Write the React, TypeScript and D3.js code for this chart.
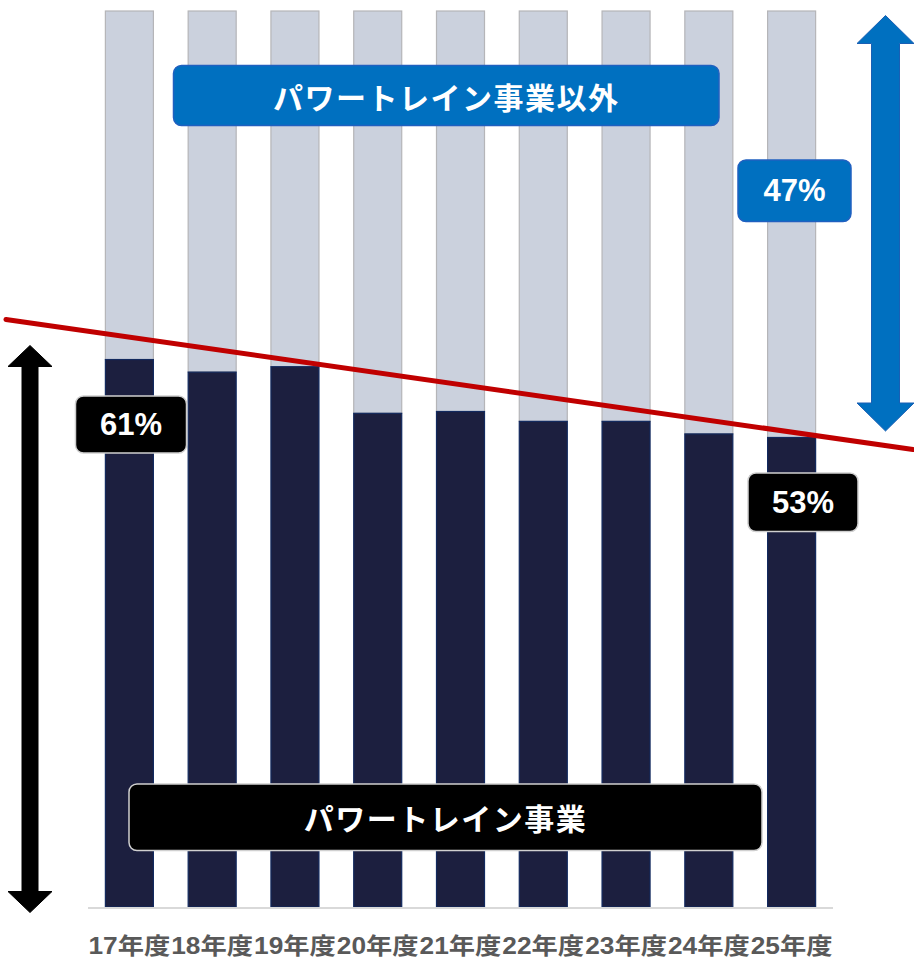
import React from "react";
import * as d3 from "d3";

const categories = ["17年度", "18年度", "19年度", "20年度", "21年度", "22年度", "23年度", "24年度", "25年度"];
const powertrainShare = [0.611, 0.597, 0.603, 0.551, 0.553, 0.542, 0.542, 0.528, 0.524];
const trendEnds = [0.636, 0.530];
const labelTexts = { nonPT: "パワートレイン事業以外", pt: "パワートレイン事業", startPct: "61%", endPct: "53%", otherPct: "47%" };

const W = 914, H = 958;
const JP = "'Noto Sans CJK JP', sans-serif";
const LAT = "'Liberation Sans', Arial, 'Noto Sans CJK JP', sans-serif";

export default function App() {
  const x = d3.scaleBand<string>().domain(categories).range([88, 833]).paddingInner(0.42).paddingOuter(0.21);
  const y = d3.scaleLinear().domain([0, 1]).range([907, 11]);
  const bw = x.bandwidth();
  const step = x.step();
  const centers = categories.map((c) => (x(c) as number) + bw / 2);
  const xi = d3.scaleLinear().domain([0, categories.length - 1]).range([centers[0], centers[centers.length - 1]]);
  const tv = d3.scaleLinear().domain([0, categories.length - 1]).range(trendEnds);
  const i0 = xi.invert(6), i1 = xi.invert(913);

  const box = (x0: number, y0: number, x1: number, y1: number, fill: string, stroke: string, text: string, fs: number, font: string, ls: number) => (
    <g>
      <rect x={x0} y={y0} width={x1 - x0} height={y1 - y0} rx={8} fill={fill} stroke={stroke} strokeWidth={1.5} />
      <text x={(x0 + x1) / 2} y={(y0 + y1) / 2} textAnchor="middle" dominantBaseline="central" fill="#fff" fontSize={fs} fontWeight={700} fontFamily={font} letterSpacing={ls}>{text}</text>
    </g>
  );

  const vArrow = (cx: number, top: number, bottom: number, headW: number, headH: number, shaftW: number, fill: string, stroke: string) => {
    const p = [
      [cx, top], [cx + headW / 2, top + headH], [cx + shaftW / 2, top + headH], [cx + shaftW / 2, bottom - headH],
      [cx + headW / 2, bottom - headH], [cx, bottom], [cx - headW / 2, bottom - headH], [cx - shaftW / 2, bottom - headH],
      [cx - shaftW / 2, top + headH], [cx - headW / 2, top + headH],
    ];
    return <path d={d3.line()(p as [number, number][]) + "Z"} fill={fill} stroke={stroke} strokeWidth={1} />;
  };

  return (
    <svg width={W} height={H} style={{ position: "absolute", left: 0, top: 0, background: "#fff" }}>
      {categories.map((c, i) => (
        <g key={c}>
          <rect x={x(c)} y={y(1)} width={bw} height={y(powertrainShare[i]) - y(1)} fill="#cbd1dd" stroke="#b5b5b8" strokeWidth={1.2} />
          <rect x={x(c)} y={y(powertrainShare[i])} width={bw} height={y(0) - y(powertrainShare[i])} fill="#1c1f3f" stroke="#12295e" strokeWidth={1.2} />
        </g>
      ))}
      <line x1={88} x2={833} y1={y(0) + 1} y2={y(0) + 1} stroke="#d9d9d9" strokeWidth={2} />
      {categories.map((c, i) => (
        <text key={c} x={centers[i]} y={946} textAnchor="middle" dominantBaseline="central" fill="#595959" fontSize={23} fontWeight={700} fontFamily={LAT} textLength={step - 1} lengthAdjust="spacingAndGlyphs">{c}</text>
      ))}
      <line x1={xi(i0)} y1={y(tv(i0))} x2={xi(i1)} y2={y(tv(i1))} stroke="#c00000" strokeWidth={5} strokeLinecap="round" />
      {vArrow(30, 345.5, 912.5, 44, 21, 16, "#000", "#000")}
      {vArrow(885.5, 15.5, 431, 57, 28, 28, "#0070c0", "#1a5fb4")}
      {box(173.5, 65.5, 719, 125.5, "#0070c0", "#2060c0", labelTexts.nonPT, 30, JP, 1.5)}
      {box(129, 784, 762, 850.5, "#000", "#d0d0d0", labelTexts.pt, 30, JP, 1.5)}
      {box(738, 160, 851, 221.5, "#0070c0", "#2060c0", labelTexts.otherPct, 31, LAT, 0)}
      {box(75.5, 396, 186.5, 453, "#000", "#cfcfcf", labelTexts.startPct, 31, LAT, 0)}
      {box(748, 473, 858, 531.5, "#000", "#cfcfcf", labelTexts.endPct, 31, LAT, 0)}
    </svg>
  );
}
